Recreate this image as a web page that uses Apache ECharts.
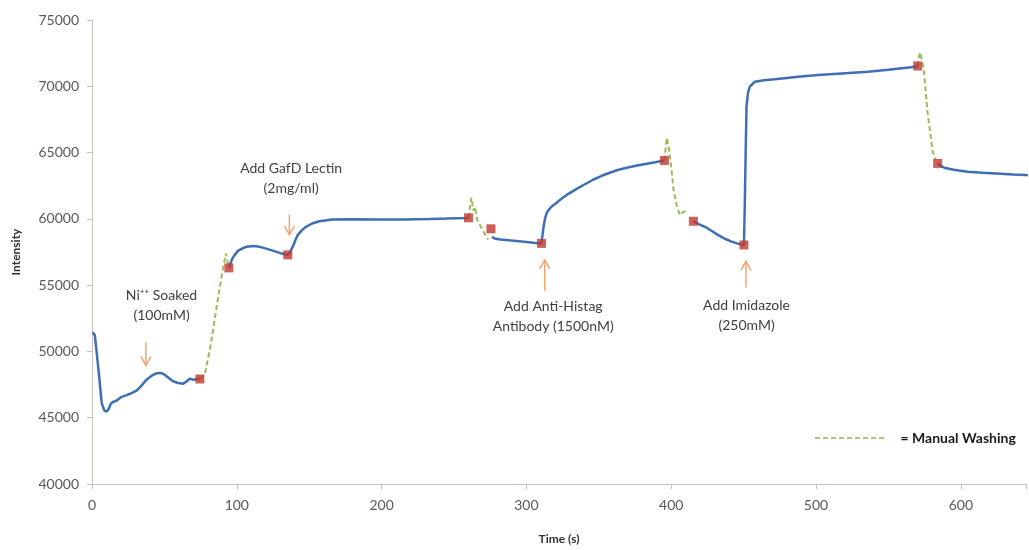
<!DOCTYPE html>
<html>
<head>
<meta charset="utf-8">
<script src="https://cdn.jsdelivr.net/npm/echarts@6/dist/echarts.min.js"></script>
<style>
  html, body { margin: 0; padding: 0; background: #fff; }
  #chart { width: 1029px; height: 550px; }
</style>
</head>
<body>
<div id="chart"></div>
<script>
// blue measurement segments, [time (s), intensity]
const segSoak = [
  [0.5, 51450], [1.5, 51400], [2, 51200], [4.5, 48600], [6.7, 46100], [8.5, 45550],
  [10, 45450], [11.5, 45650], [13, 46050], [14.7, 46200], [17, 46300], [20, 46550],
  [24, 46700], [28, 46900], [31, 47070], [34, 47400], [37.7, 47870], [41, 48150],
  [44, 48330], [47, 48380], [49.5, 48300], [53, 48000], [56, 47750], [59.4, 47620],
  [63, 47570], [65.5, 47750], [67.5, 47940], [69.7, 47870], [72, 47900], [74.5, 47920]
]
const segLectin = [
  [94.5, 56300], [96.5, 56900], [98.5, 57280], [101, 57600], [104, 57780], [107, 57900],
  [111, 57950], [114.5, 57920], [118, 57830], [122, 57700], [127, 57530], [131, 57380],
  [135.2, 57280], [136.5, 57450], [138.7, 57900], [140.5, 58400], [142, 58770], [145, 59150],
  [147.8, 59400], [152, 59650], [157, 59820], [166, 59950], [180, 59970], [198, 59950],
  [215, 59960], [233, 59990], [245, 60020], [258, 60070], [260, 60080]
]
const segAntibody = [
  [276.2, 58650], [278, 58520], [282, 58450], [288, 58380], [294.8, 58320], [300, 58260],
  [305, 58200], [310.4, 58150], [311, 58700], [312, 59520], [313, 60100], [314.3, 60520],
  [317, 60900], [320, 61140], [324, 61500], [329, 61890], [335, 62280], [340.7, 62630],
  [346, 62950], [352, 63250], [358, 63500], [363.6, 63700], [370, 63880], [377.4, 64050],
  [386, 64220], [395.3, 64400]
]
const segImidazole = [
  [415.3, 59820], [419, 59600], [423.3, 59400], [428, 59080], [432.5, 58770], [437, 58500],
  [441.7, 58280], [446, 58130], [450.2, 58030], [450.8, 61000], [451.4, 65000], [452, 68480],
  [453, 69500], [454.3, 69970], [457.7, 70350], [464, 70450], [471.5, 70530], [480, 70630],
  [487.6, 70720], [501.4, 70850], [515, 70950], [535.8, 71100], [550, 71250], [565.6, 71430],
  [570.2, 71530]
]
const segEnd = [
  [584, 64180], [586, 64000], [588.6, 63860], [595, 63700], [604.7, 63560], [615, 63480],
  [627.6, 63410], [636, 63350], [645, 63300], [650, 63280]
]

// green dashed manual washing steps
const wash1 = [[74.5, 47920], [78, 48300], [82, 50500], [86, 53300], [90, 56000], [92.5, 57400], [94.5, 56300]]
const wash2 = [[260, 60080], [262, 61600], [263.5, 60600], [264.5, 60900], [266, 59900], [268, 59530], [270, 59100], [272, 58750], [273.5, 58450]]
const wash3 = [[395.3, 64400], [396.2, 65400], [396.9, 66120], [398.5, 65250], [400.4, 63510], [401.5, 62260], [403.8, 61010], [406, 60270], [408, 60500], [410.5, 60600]]
const wash4 = [[570.2, 71530], [571, 72200], [572, 72550], [573, 72000], [574.4, 71280], [577, 68040], [580.6, 65060], [582.5, 64500]]

// red square markers
const markerTime = [74.5, 94.5, 135.2, 260, 275.5, 310.4, 395.3, 415.3, 450.2, 570.2, 584]
const markerIntensity = [47920, 56300, 57280, 60080, 59250, 58150, 64400, 59820, 58030, 71530, 64180]

// annotations
const noteTime = [48, 137.5, 318.5, 452]
const noteIntensity = [53500, 63050, 52600, 52700]
const noteText = ['Ni\u207A\u207A Soaked\n(100mM)', 'Add GafD Lectin\n(2mg/ml)', 'Add Anti-Histag\nAntibody (1500nM)', 'Add Imidazole\n(250mM)']
const arrowTime = [37.2, 136.3, 312.7, 451.6]
const arrowTail = [50700, 60300, 54550, 54800]
const arrowHead = [48950, 58800, 56900, 56800]

const xTicks = [0, 100, 200, 300, 400, 500, 600]

const FONT = 'Lato, "Open Sans", sans-serif'
const BLUE = '#3f6fb3'
const GREEN = '#9bbb59'
const RED = '#c0392f'
const ARROW = '#f2a66e'
const AXIS = '#cbbcbc'

// dashed line icon for the legend
const DASH_ICON = 'path://' + [0, 8, 16, 24, 32, 40, 48, 56, 64].map(x => `M${x} 0h5v2h-5z`).join('')

const chart = echarts.init(document.getElementById('chart'))

const blueSeries = [segSoak, segLectin, segAntibody, segImidazole, segEnd].map(seg => ({
  name: 'Intensity',
  type: 'line',
  data: seg,
  showSymbol: false,
  symbol: 'none',
  lineStyle: { color: BLUE, width: 2.5 },
  z: 3
}))

const washSeries = [wash1, wash2, wash3, wash4].map(seg => ({
  name: 'Manual Washing',
  type: 'line',
  data: seg,
  symbol: 'none',
  itemStyle: { color: GREEN },
  lineStyle: { color: GREEN, width: 2, type: [5, 3] },
  z: 2
}))

const option = {
  animation: false,
  textStyle: { fontFamily: FONT },
  grid: { left: 92, width: 937, top: 20, bottom: 55 },
  legend: {
    data: [{ name: 'Manual Washing', icon: DASH_ICON }],
    left: 810,
    top: 426,
    itemWidth: 72,
    itemHeight: 2,
    itemGap: 0,
    itemStyle: { color: '#b9c07e' },
    formatter: '= {name}',
    textStyle: { fontFamily: FONT, fontWeight: 'bold', fontSize: 14, color: '#1a1a1a', padding: [0, 0, 0, 10] }
  },
  xAxis: {
    type: 'value',
    min: 0,
    max: 645,
    interval: 100,
    name: 'Time (s)',
    nameLocation: 'middle',
    nameGap: 49,
    nameTextStyle: { fontFamily: FONT, fontWeight: 'bold', fontSize: 12, color: '#333' },
    splitLine: { show: false },
    axisLine: { lineStyle: { color: AXIS } },
    axisTick: { length: 5, lineStyle: { color: AXIS } },
    axisLabel: {
      margin: 14, fontSize: 14, color: '#595959', fontFamily: FONT,
      formatter: v => (xTicks.includes(v) ? String(v) : '')
    }
  },
  yAxis: {
    type: 'value',
    min: 40000,
    max: 75000,
    interval: 5000,
    name: 'Intensity',
    nameLocation: 'middle',
    nameRotate: 90,
    nameGap: 70,
    nameTextStyle: { fontFamily: FONT, fontWeight: 'bold', fontSize: 12, color: '#333' },
    splitLine: { show: false },
    axisLine: { show: true, lineStyle: { color: AXIS } },
    axisTick: { show: true, length: 5, lineStyle: { color: AXIS } },
    axisLabel: { margin: 13, fontSize: 14, color: '#595959', fontFamily: FONT, formatter: v => String(v) }
  },
  series: [
    ...washSeries,
    ...blueSeries,
    {
      name: 'markers',
      type: 'scatter',
      symbol: 'rect',
      symbolSize: 9,
      itemStyle: { color: RED },
      data: markerTime.map((t, i) => [t, markerIntensity[i]]),
      z: 5
    },
    {
      name: 'arrows',
      type: 'custom',
      data: arrowTime.map((t, i) => [t, arrowTail[i], arrowHead[i]]),
      encode: { x: 0, y: [1, 2] },
      renderItem: (params, api) => {
        const a = api.coord([api.value(0), api.value(1)])
        const b = api.coord([api.value(0), api.value(2)])
        const dir = b[1] > a[1] ? 1 : -1
        const st = { stroke: ARROW, lineWidth: 1.5, fill: null }
        return {
          type: 'group',
          children: [
            { type: 'line', shape: { x1: a[0], y1: a[1], x2: b[0], y2: b[1] }, style: st },
            { type: 'polyline', shape: { points: [[b[0] - 5, b[1] - dir * 9], [b[0], b[1]], [b[0] + 5, b[1] - dir * 9]] }, style: st }
          ]
        }
      },
      z: 4
    },
    {
      name: 'notes',
      type: 'custom',
      data: noteTime.map((t, i) => [t, noteIntensity[i], i]),
      encode: { x: 0, y: 1 },
      renderItem: (params, api) => {
        const p = api.coord([api.value(0), api.value(1)])
        return {
          type: 'text',
          x: p[0],
          y: p[1],
          style: {
            text: noteText[api.value(2)],
            fontFamily: FONT,
            fontSize: 14,
            lineHeight: 20,
            fill: '#404040',
            align: 'center',
            verticalAlign: 'middle'
          }
        }
      },
      z: 4
    }
  ]
}

chart.setOption(option)
window.addEventListener('resize', () => chart.resize())
</script>
</body>
</html>
